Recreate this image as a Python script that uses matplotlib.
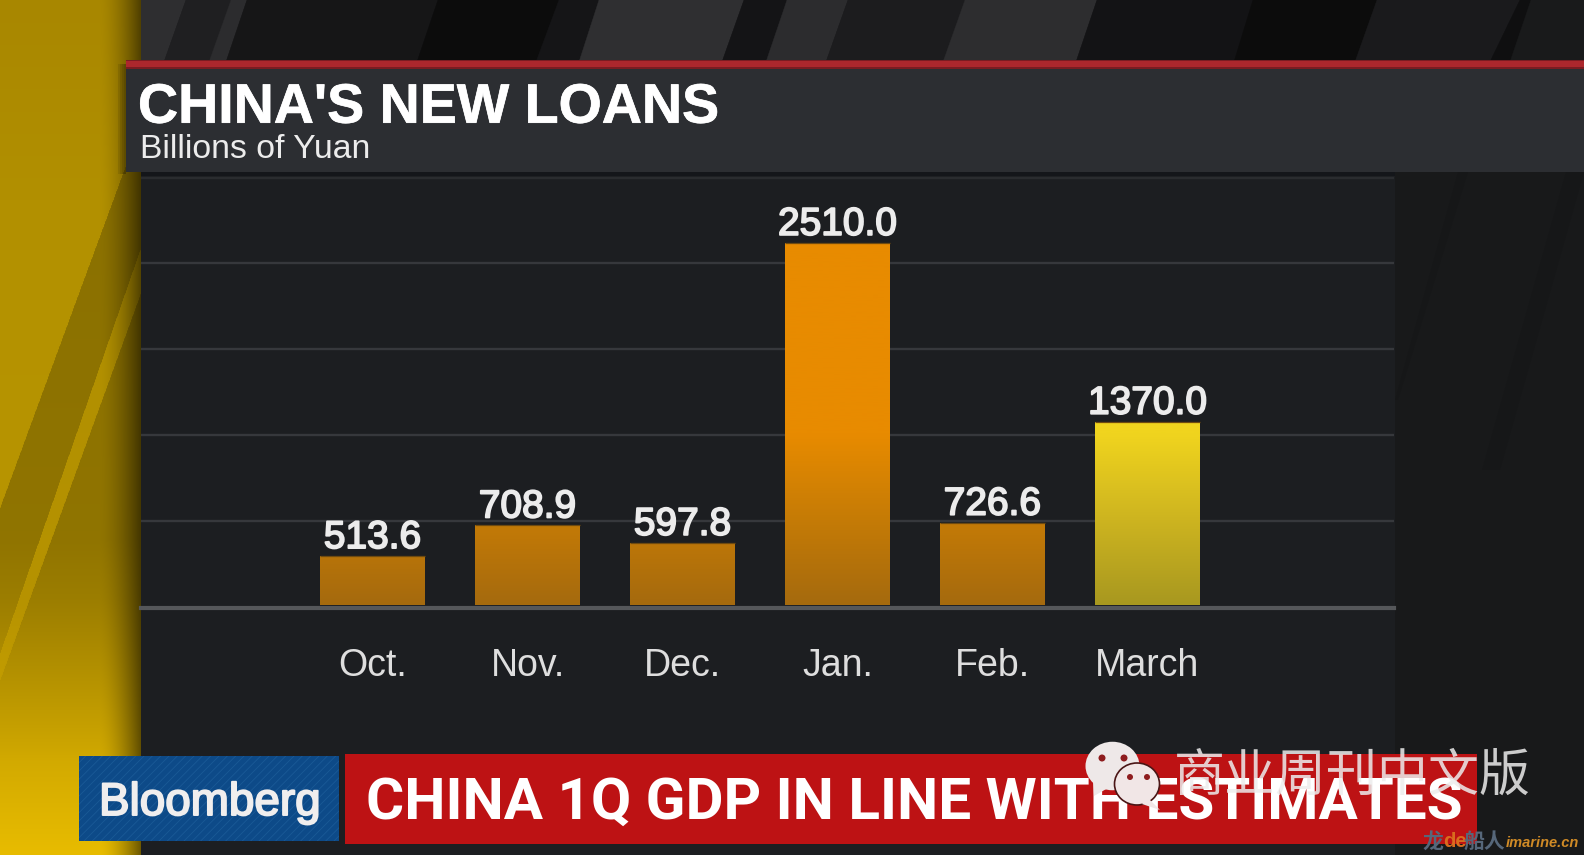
import numpy as np
import matplotlib
matplotlib.use("Agg")
import matplotlib.pyplot as plt
import matplotlib.patheffects as pe
from matplotlib.colors import LinearSegmentedColormap
from matplotlib.patches import Polygon, Rectangle, Ellipse

plt.rcParams['font.family'] = ['Liberation Sans', 'DejaVu Sans']
plt.rcParams['hatch.linewidth'] = 0.6

# ---- data ----
months = ["Oct.", "Nov.", "Dec.", "Jan.", "Feb.", "March"]
loans = [513.6, 708.9, 597.8, 2510.0, 726.6, 1370.0]
value_labels = ["513.6", "708.9", "597.8", "2510.0", "726.6", "1370.0"]
highlight = ["orange", "orange", "orange", "orange", "orange", "yellow"]
grid_levels = [739, 1285, 1832, 2380, 2925]
title = "CHINA'S NEW LOANS"
subtitle = "Billions of Yuan"
headline = "CHINA 1Q GDP IN LINE WITH ESTIMATES"
brand = "Bloomberg"
watermark = "商业周刊中文版"

W, H = 1584, 855
fig = plt.figure(figsize=(W / 100, H / 100), dpi=100, facecolor="#151517")

# ---- backdrop in pixel coordinates ----
bg = fig.add_axes([0, 0, 1, 1], zorder=0)
bg.set_xlim(0, W)
bg.set_ylim(H, 0)
bg.axis("off")

stripes = [
    (141, 186, 141, 164, "#2e2e30"), (186, 231, 164, 209, "#1f1f21"),
    (231, 247, 209, 226, "#2c2c2e"), (247, 438, 226, 417, "#161617"),
    (438, 559, 417, 536, "#0c0c0c"), (559, 599, 536, 579, "#151517"),
    (599, 744, 579, 722, "#2f2f31"), (744, 787, 722, 766, "#141416"),
    (787, 848, 766, 826, "#2c2c2e"), (848, 965, 826, 943, "#1c1c1e"),
    (965, 1097, 943, 1076, "#2d2d2f"), (1097, 1253, 1076, 1234, "#131315"),
    (1253, 1377, 1234, 1355, "#0c0c0c"), (1377, 1520, 1355, 1490, "#1a1a1c"),
    (1520, 1531, 1490, 1510, "#0f0f10"), (1531, 1584, 1510, 1584, "#191a1b"),
]
for a, b, c, d, col in stripes:
    bg.add_patch(Polygon([(a, 0), (b, 0), (d, 62), (c, 62)], fc=col, ec=col, lw=0.3, zorder=1))

# left yellow column
yy, xx = np.mgrid[0:H, 0:141]
stops_y = [0, 200, 300, 600, 750, 855]
stops_r = [168, 178, 180, 186, 208, 232]
stops_g = [135, 144, 146, 150, 168, 188]
r = np.interp(yy, stops_y, stops_r)
g = np.interp(yy, stops_y, stops_g)
shade = np.ones(yy.shape)
edge1 = 113 - 0.368 * (yy - 200)
edge2 = 140 - 0.348 * (yy - 250)
edge3 = 140 - 0.364 * (yy - 295)
fade = np.clip((760 - yy) / 220, 0, 1)
shade = np.where(xx > edge1, 1 - 0.22 * fade, shade)
shade = np.where((xx > edge2) & (xx < edge3), 0.98, shade)
shadow = np.clip((xx - 100) / 40, 0, 1) ** 1.6
shade = shade * (1 - 0.52 * shadow)
img = np.dstack([r * shade, g * shade, np.zeros_like(r)]).astype(np.uint8)
bg.imshow(img, extent=[0, 141, H, 0], aspect="auto", zorder=1, interpolation="bilinear")
bg.set_xlim(0, W)
bg.set_ylim(H, 0)

# chart panel and right side
bg.add_patch(Rectangle((141, 170), 1254, H - 170, fc="#1c1e21", ec="none", zorder=1))
bg.add_patch(Rectangle((141, 171), 1254, 5, fc="#14161a", ec="none", zorder=1.1))
bg.add_patch(Rectangle((1394.5, 170), W - 1394.5, H - 170, fc="#18191a", ec="none", zorder=1))
for pts in ([(1458, 172), (1468, 172), (1398, 400), (1395, 400)],
            ([(1566, 172), (1584, 172), (1500, 470), (1482, 470)])):
    bg.add_patch(Polygon(pts, fc="#161718", ec="none", zorder=1.1))

# title band with soft shadow
for i, off in enumerate([8, 6, 4, 2]):
    bg.add_patch(Rectangle((126 - off, 64), off, 110, fc="#2a2200", ec="none", alpha=0.12, zorder=1.2))
bg.add_patch(Rectangle((126, 66), W - 126, 106, fc="#2c2e32", ec="none", zorder=2))
bg.add_patch(Rectangle((126, 60), W - 126, 9, fc="#7a1c22", ec="none", zorder=2.05))
bg.add_patch(Rectangle((126, 61.5), W - 126, 6, fc="#ac272d", ec="none", zorder=2.1))
bg.text(138, 122.7, title, fontsize=40, fontweight="bold", color="white", va="baseline", zorder=3,
        path_effects=[pe.withStroke(linewidth=0.5, foreground="white")])
bg.text(139.5, 158, subtitle, fontsize=24.3, color="#ececec", va="baseline", zorder=3)

# bottom strip
bg.add_patch(Rectangle((79, 756), 260, 85, fc="#0d4a88", ec="#1a5a96", hatch="////", lw=0, zorder=3))
bg.text(99, 815, brand, fontsize=33, color="#f0eeee", va="baseline", zorder=4,
        path_effects=[pe.withStroke(linewidth=1.4, foreground="#f0eeee")])
bg.add_patch(Rectangle((345.3, 754), 1131.4, 90, fc="#bd1214", ec="none", zorder=3))
bg.text(366, 818.5, headline, fontsize=42, fontweight="bold", family=["Roboto", "DejaVu Sans"],
        color="white", va="baseline", zorder=4)

# WeChat style mark
bg.add_patch(Ellipse((1112.5, 766), 54, 48.5, fc="#eee8e8", ec="none", zorder=5))
bg.add_patch(Polygon([(1093, 780), (1108, 788), (1094, 796)], fc="#eee8e8", ec="none", zorder=5))
bg.add_patch(Ellipse((1137, 784), 45, 42, fc="#f1e6e6", ec="#4a1515", lw=1.2, zorder=6))
bg.add_patch(Polygon([(1148, 798), (1160, 810), (1142, 804)], fc="#f1e6e6", ec="none", zorder=6))
for ex, ey, rad in [(1102, 758, 3.5), (1124, 758, 3.5), (1130, 777, 3), (1147, 777, 3)]:
    bg.add_patch(Ellipse((ex, ey), rad * 2, rad * 2, fc="#8e1c1e", ec="none", zorder=7))
bg.text(1174, 791, watermark, fontsize=36.7, fontweight="light", color="#ededed", alpha=0.85, va="baseline",
        family=["Noto Sans CJK SC", "DejaVu Sans"], zorder=8)

# small site mark
bg.text(1422.5, 848, "龙", fontsize=15, fontweight="bold", color="#56677a", va="baseline",
        family=["Noto Sans CJK SC", "DejaVu Sans"], zorder=8)
bg.text(1443, 847, "de", fontsize=14.5, fontweight="bold", color="#d86c1e", va="baseline", zorder=8)
bg.text(1463, 848, "船人", fontsize=15, fontweight="bold", color="#56677a", va="baseline",
        family=["Noto Sans CJK SC", "DejaVu Sans"], zorder=8)
bg.text(1505.5, 847, "imarine.cn", fontsize=10.5, fontweight="bold", fontstyle="italic", color="#cf8a26",
        va="baseline", zorder=8)

# ---- chart ----
left, right = 140.7, 1394.3
base_px, top_px = 605.3, 172.3
ax = fig.add_axes([left / W, 1 - base_px / H, (right - left) / W, (base_px - top_px) / H], zorder=2)
ax.patch.set_alpha(0)

y_lo, y_hi = 200, 2960
x = np.arange(len(months))
bar_width = 0.671

cmaps = {
    "orange": LinearSegmentedColormap.from_list(
        "o", [(0, "#a56a0e"), (0.195, "#c57b06"), (0.393, "#e88b00"), (1, "#e88b00")]),
    "yellow": LinearSegmentedColormap.from_list(
        "y", [(0, "#a8981f"), (0.195, "#cdb420"), (0.393, "#f0d41e"), (1, "#f0d41e")]),
}
gradient = np.linspace(0, 1, 512).reshape(-1, 1)

bars = ax.bar(x, loans, width=bar_width, bottom=0, color="none", edgecolor="none", zorder=3)
for rect, kind in zip(bars, highlight):
    im = ax.imshow(gradient, cmap=cmaps[kind], extent=[-2, 7, y_lo, y_hi], origin="lower",
                   aspect="auto", zorder=3, vmin=0, vmax=1)
    im.set_clip_path(rect)
ax.hlines(loans, x - bar_width / 2, x + bar_width / 2, color="#6e4a10", lw=0.9, zorder=4)

ax.set_xlim((left - 372.5) / 155, (right - 372.5) / 155)
ax.set_ylim(y_lo, y_hi)
ax.set_yticks(grid_levels)
ax.set_yticklabels([])
ax.tick_params(axis="y", length=0)
ax.grid(axis="y", color="#36383c", lw=1.7, zorder=1)
ax.get_ygridlines()[-1].set_color("#2a2c2f")
ax.set_axisbelow(True)
ax.set_xticks(x)
ax.set_xticklabels(months)
ax.tick_params(axis="x", length=0, pad=29.5, labelsize=27, labelcolor="#dedede")
for lab in ax.get_xticklabels():
    lab.set_path_effects([pe.withStroke(linewidth=0.7, foreground="#dedede")])
for s in ["top", "left", "right"]:
    ax.spines[s].set_visible(False)
ax.spines["bottom"].set_color("#55575a")
ax.spines["bottom"].set_linewidth(3)
ax.spines["bottom"].set_position(("outward", 1.6))

for xi, v, txt in zip(x, loans, value_labels):
    ax.annotate(txt, (xi, v), xytext=(0, 0), textcoords="offset points", ha="center", va="bottom",
                fontsize=28, color="#ececec", zorder=5,
                path_effects=[pe.withStroke(linewidth=1.3, foreground="#ececec")])

fig.savefig("out.png", dpi=100, facecolor=fig.get_facecolor())
